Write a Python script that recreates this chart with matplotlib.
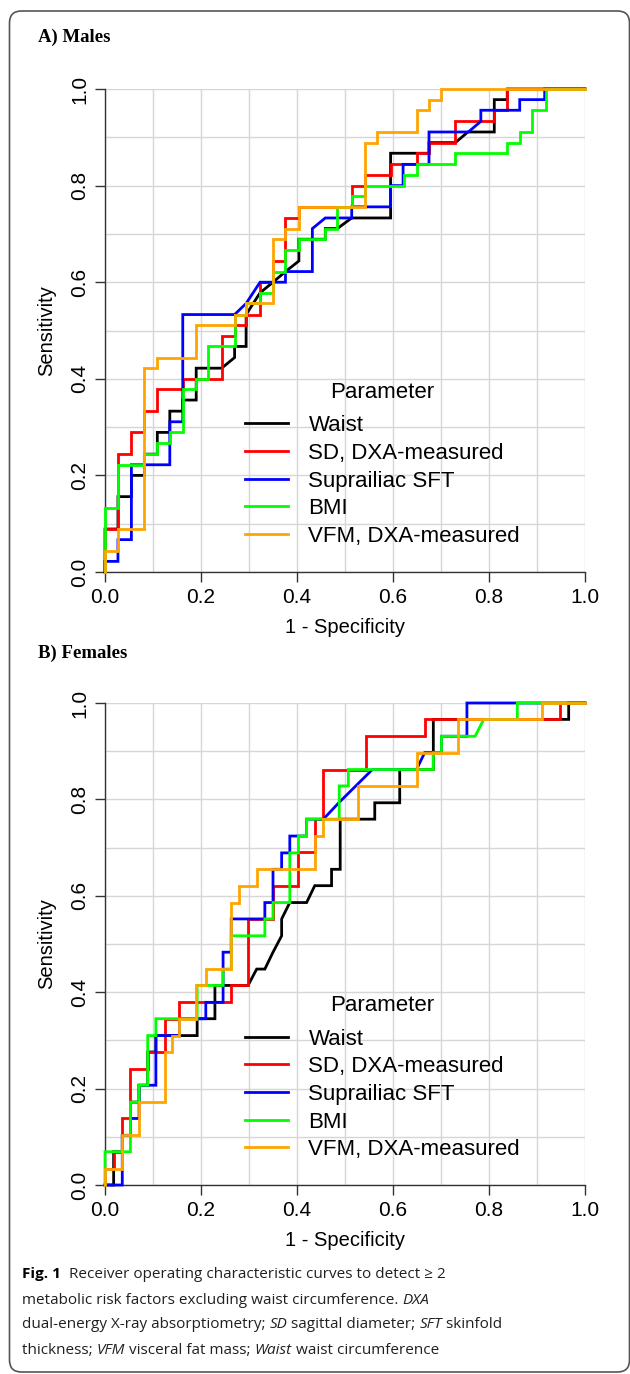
import matplotlib
matplotlib.use("Agg")
import matplotlib.pyplot as plt
from matplotlib.patches import FancyBboxPatch
from matplotlib.transforms import IdentityTransform

plt.rcParams["font.family"] = ["Liberation Sans", "DejaVu Sans"]

params = ["Waist", "SD, DXA-measured", "Suprailiac SFT", "BMI", "VFM, DXA-measured"]
colors = ["#000000", "#FF0000", "#0000FF", "#00FF00", "#FFA500"]
ticks = [0.0, 0.2, 0.4, 0.6, 0.8, 1.0]
tick_labels = ["0.0", "0.2", "0.4", "0.6", "0.8", "1.0"]

# ---- A) Males: 1 - specificity / sensitivity
waist_m_x = [0, 0, 0.027, 0.027, 0.055, 0.055, 0.082, 0.082, 0.109, 0.109, 0.135, 0.135, 0.162, 0.162, 0.19, 0.19, 0.243, 0.27, 0.27, 0.294, 0.294, 0.323, 0.35, 0.376, 0.404, 0.404, 0.459, 0.459, 0.484, 0.514, 0.595, 0.595, 0.675, 0.675, 0.73, 0.756, 0.811, 0.811, 0.838, 0.838, 1]
waist_m_y = [0, 0.089, 0.089, 0.156, 0.156, 0.2, 0.2, 0.244, 0.244, 0.289, 0.289, 0.333, 0.333, 0.356, 0.356, 0.422, 0.422, 0.444, 0.467, 0.467, 0.533, 0.578, 0.6, 0.622, 0.644, 0.689, 0.689, 0.711, 0.711, 0.733, 0.733, 0.867, 0.867, 0.889, 0.889, 0.911, 0.911, 0.978, 0.978, 1.0, 1.0]

sd_m_x = [0, 0, 0.027, 0.027, 0.055, 0.055, 0.082, 0.082, 0.109, 0.109, 0.162, 0.162, 0.243, 0.243, 0.27, 0.27, 0.294, 0.294, 0.323, 0.323, 0.35, 0.35, 0.376, 0.376, 0.404, 0.404, 0.514, 0.514, 0.541, 0.541, 0.595, 0.595, 0.649, 0.649, 0.675, 0.675, 0.729, 0.729, 0.811, 0.811, 0.838, 0.838, 1]
sd_m_y = [0, 0.089, 0.089, 0.244, 0.244, 0.289, 0.289, 0.333, 0.333, 0.378, 0.378, 0.4, 0.4, 0.489, 0.489, 0.511, 0.511, 0.533, 0.533, 0.6, 0.6, 0.644, 0.644, 0.733, 0.733, 0.756, 0.756, 0.8, 0.8, 0.822, 0.822, 0.844, 0.844, 0.867, 0.867, 0.889, 0.889, 0.933, 0.933, 0.956, 0.956, 1.0, 1.0]

supra_m_x = [0, 0, 0.027, 0.027, 0.055, 0.055, 0.135, 0.135, 0.162, 0.162, 0.27, 0.294, 0.323, 0.35, 0.376, 0.376, 0.432, 0.432, 0.459, 0.514, 0.514, 0.595, 0.595, 0.621, 0.621, 0.675, 0.675, 0.757, 0.783, 0.783, 0.864, 0.864, 0.916, 0.916, 1]
supra_m_y = [0, 0.022, 0.022, 0.067, 0.067, 0.222, 0.222, 0.311, 0.311, 0.533, 0.533, 0.556, 0.6, 0.6, 0.6, 0.622, 0.622, 0.711, 0.733, 0.733, 0.756, 0.756, 0.8, 0.8, 0.844, 0.844, 0.911, 0.911, 0.933, 0.956, 0.956, 0.978, 0.978, 1.0, 1.0]

bmi_m_x = [0, 0, 0.027, 0.027, 0.082, 0.082, 0.109, 0.109, 0.135, 0.135, 0.162, 0.162, 0.19, 0.19, 0.215, 0.215, 0.27, 0.27, 0.294, 0.294, 0.323, 0.323, 0.35, 0.35, 0.376, 0.376, 0.404, 0.404, 0.459, 0.459, 0.484, 0.484, 0.514, 0.514, 0.541, 0.541, 0.623, 0.623, 0.649, 0.649, 0.73, 0.73, 0.838, 0.838, 0.864, 0.864, 0.89, 0.89, 0.918, 0.918, 1]
bmi_m_y = [0, 0.133, 0.133, 0.222, 0.222, 0.244, 0.244, 0.267, 0.267, 0.289, 0.289, 0.378, 0.378, 0.4, 0.4, 0.467, 0.467, 0.533, 0.533, 0.556, 0.556, 0.578, 0.578, 0.622, 0.622, 0.667, 0.667, 0.689, 0.689, 0.711, 0.711, 0.756, 0.756, 0.778, 0.778, 0.8, 0.8, 0.822, 0.822, 0.844, 0.844, 0.867, 0.867, 0.889, 0.889, 0.911, 0.911, 0.956, 0.956, 1.0, 1.0]

vfm_m_x = [0, 0, 0.027, 0.027, 0.082, 0.082, 0.109, 0.109, 0.19, 0.19, 0.27, 0.27, 0.294, 0.294, 0.35, 0.35, 0.376, 0.376, 0.404, 0.404, 0.541, 0.541, 0.566, 0.566, 0.649, 0.649, 0.675, 0.675, 0.701, 0.701, 1]
vfm_m_y = [0, 0.044, 0.044, 0.089, 0.089, 0.422, 0.422, 0.444, 0.444, 0.511, 0.511, 0.533, 0.533, 0.556, 0.556, 0.689, 0.689, 0.711, 0.711, 0.756, 0.756, 0.889, 0.889, 0.911, 0.911, 0.956, 0.956, 0.978, 0.978, 1.0, 1.0]

# ---- B) Females
waist_f_x = [0, 0.018, 0.018, 0.036, 0.036, 0.053, 0.053, 0.071, 0.071, 0.089, 0.089, 0.106, 0.106, 0.192, 0.192, 0.229, 0.229, 0.298, 0.316, 0.333, 0.35, 0.368, 0.368, 0.385, 0.42, 0.437, 0.472, 0.472, 0.49, 0.49, 0.562, 0.562, 0.614, 0.614, 0.684, 0.684, 0.966, 0.966, 1]
waist_f_y = [0, 0, 0.069, 0.069, 0.103, 0.103, 0.172, 0.172, 0.207, 0.207, 0.276, 0.276, 0.31, 0.31, 0.345, 0.345, 0.414, 0.414, 0.448, 0.448, 0.483, 0.517, 0.552, 0.586, 0.586, 0.621, 0.621, 0.655, 0.655, 0.759, 0.759, 0.793, 0.793, 0.862, 0.862, 0.966, 0.966, 1.0, 1.0]

sd_f_x = [0, 0, 0.018, 0.018, 0.036, 0.036, 0.053, 0.053, 0.089, 0.089, 0.124, 0.124, 0.155, 0.155, 0.263, 0.263, 0.298, 0.298, 0.35, 0.35, 0.403, 0.403, 0.437, 0.437, 0.455, 0.455, 0.544, 0.544, 0.666, 0.666, 0.948, 0.948, 1]
sd_f_y = [0, 0.034, 0.034, 0.069, 0.069, 0.138, 0.138, 0.241, 0.241, 0.276, 0.276, 0.345, 0.345, 0.379, 0.379, 0.414, 0.414, 0.552, 0.552, 0.621, 0.621, 0.69, 0.69, 0.759, 0.759, 0.862, 0.862, 0.931, 0.931, 0.966, 0.966, 1.0, 1.0]

supra_f_x = [0, 0.036, 0.036, 0.053, 0.053, 0.071, 0.071, 0.106, 0.106, 0.155, 0.155, 0.21, 0.21, 0.246, 0.246, 0.263, 0.263, 0.333, 0.333, 0.35, 0.35, 0.368, 0.368, 0.385, 0.385, 0.42, 0.42, 0.455, 0.487, 0.557, 0.649, 0.666, 0.701, 0.701, 0.754, 0.754, 1]
supra_f_y = [0, 0, 0.103, 0.103, 0.138, 0.138, 0.207, 0.207, 0.31, 0.31, 0.345, 0.345, 0.379, 0.379, 0.483, 0.483, 0.552, 0.552, 0.586, 0.586, 0.655, 0.655, 0.689, 0.689, 0.724, 0.724, 0.759, 0.759, 0.793, 0.862, 0.862, 0.897, 0.897, 0.931, 0.931, 1.0, 1.0]

bmi_f_x = [0, 0, 0.053, 0.053, 0.071, 0.071, 0.089, 0.089, 0.106, 0.106, 0.192, 0.192, 0.246, 0.246, 0.263, 0.263, 0.333, 0.333, 0.35, 0.35, 0.385, 0.385, 0.403, 0.403, 0.42, 0.42, 0.488, 0.488, 0.507, 0.507, 0.684, 0.684, 0.701, 0.701, 0.771, 0.789, 0.859, 0.859, 1]
bmi_f_y = [0, 0.069, 0.069, 0.172, 0.172, 0.207, 0.207, 0.31, 0.31, 0.345, 0.345, 0.414, 0.414, 0.448, 0.448, 0.517, 0.517, 0.552, 0.552, 0.586, 0.586, 0.689, 0.689, 0.724, 0.724, 0.759, 0.759, 0.828, 0.828, 0.862, 0.862, 0.897, 0.897, 0.931, 0.931, 0.966, 0.966, 1.0, 1.0]

vfm_f_x = [0, 0, 0.036, 0.036, 0.071, 0.071, 0.124, 0.124, 0.14, 0.14, 0.155, 0.155, 0.19, 0.19, 0.21, 0.21, 0.263, 0.263, 0.28, 0.28, 0.316, 0.316, 0.437, 0.437, 0.455, 0.455, 0.527, 0.527, 0.649, 0.649, 0.736, 0.736, 0.911, 0.911, 1]
vfm_f_y = [0, 0.034, 0.034, 0.103, 0.103, 0.172, 0.172, 0.276, 0.276, 0.31, 0.31, 0.345, 0.345, 0.414, 0.414, 0.448, 0.448, 0.586, 0.586, 0.621, 0.621, 0.655, 0.655, 0.724, 0.724, 0.759, 0.759, 0.828, 0.828, 0.897, 0.897, 0.966, 0.966, 1.0, 1.0]

males = [(waist_m_x, waist_m_y), (sd_m_x, sd_m_y), (supra_m_x, supra_m_y), (bmi_m_x, bmi_m_y), (vfm_m_x, vfm_m_y)]
females = [(waist_f_x, waist_f_y), (sd_f_x, sd_f_y), (supra_f_x, supra_f_y), (bmi_f_x, bmi_f_y), (vfm_f_x, vfm_f_y)]

W, H = 630, 1374
fig = plt.figure(figsize=(W / 100, H / 100), dpi=100)


def add_ax(left, top, right, bottom):
    return fig.add_axes([left / W, 1 - bottom / H, (right - left) / W, (bottom - top) / H])


def roc_panel(ax, curves):
    for (x, y), c, name in zip(curves, colors, params):
        ax.plot(x, y, color=c, lw=2.0, label=name, zorder=3, clip_on=False,
                solid_joinstyle="miter")
    ax.set_xlim(0, 1)
    ax.set_ylim(0, 1)
    ax.set_xticks(ticks)
    ax.set_xticklabels(tick_labels)
    ax.set_yticks(ticks)
    ax.set_yticklabels(tick_labels, rotation=90, va="center")
    ax.set_xticks([i / 10 for i in range(1, 10, 2)], minor=True)
    ax.set_yticks([i / 10 for i in range(1, 10, 2)], minor=True)
    ax.grid(True, which="both", color="#D6D6D6", lw=1.0, zorder=0)
    ax.set_axisbelow(True)
    ax.tick_params(which="major", length=7, width=1, labelsize=15, pad=4.5, color="#333333")
    ax.tick_params(which="minor", length=0)
    for s in ["top", "right"]:
        ax.spines[s].set_visible(False)
    for s in ["left", "bottom"]:
        ax.spines[s].set_color("#333333")
        ax.spines[s].set_linewidth(1.0)
    ax.set_xlabel("1 - Specificity", fontsize=14.5, va="center")
    ax.xaxis.set_label_coords(0.5, -0.115)
    ax.set_ylabel("Sensitivity", fontsize=14.5, va="center")
    ax.yaxis.set_label_coords(-0.121, 0.5)
    leg = ax.legend(title="Parameter", loc="upper left", bbox_to_anchor=(0.292, 0.394),
                    frameon=False, fontsize=16, title_fontsize=16, handlelength=1.95,
                    handletextpad=0.9, labelspacing=0.3, borderpad=0, borderaxespad=0)
    leg._legend_box.sep = 9
    for h in leg.get_lines():
        h.set_linewidth(2.0)


ax1 = add_ax(105, 89, 585, 572)
roc_panel(ax1, males)
ax2 = add_ax(105, 703, 585, 1185)
roc_panel(ax2, females)

fig.text(38 / W, 1 - 37 / H, "A) Males", fontfamily="Liberation Serif", fontweight="bold",
         fontsize=13.5, va="center")
fig.text(38 / W, 1 - 653 / H, "B) Females", fontfamily="Liberation Serif", fontweight="bold",
         fontsize=13.5, va="center")

# rounded frame around the figure
frame = FancyBboxPatch((9.5, 2), 620, 1361, boxstyle="round,pad=0,rounding_size=12",
                       transform=IdentityTransform(), fill=False, ec="#555555", lw=1.2)
fig.patches.append(frame)

# caption with bold / italic runs
cap_font = ["Open Sans", "DejaVu Sans"]
cap_size = 11
cap_color = "#231F20"
caption = [
    [("Fig. 1", "bold"), ("  Receiver operating characteristic curves to detect \u2265 2", "normal")],
    [("metabolic risk factors excluding waist circumference. ", "normal"), ("DXA", "italic")],
    [("dual-energy X-ray absorptiometry; ", "normal"), ("SD", "italic"),
     (" sagittal diameter; ", "normal"), ("SFT", "italic"), (" skinfold", "normal")],
    [("thickness; ", "normal"), ("VFM", "italic"), (" visceral fat mass; ", "normal"),
     ("Waist", "italic"), (" waist circumference", "normal")],
]
line_y = [1274, 1300, 1325, 1351]

renderer = fig.canvas.get_renderer()


def run_width(s, **kw):
    # width including leading/trailing spaces
    t = fig.text(0, 0, "|" + s + "|", fontsize=cap_size, family=cap_font, **kw)
    t2 = fig.text(0, 0, "||", fontsize=cap_size, family=cap_font, **kw)
    w = t.get_window_extent(renderer).width - t2.get_window_extent(renderer).width
    t.remove()
    t2.remove()
    return w


for runs, yy in zip(caption, line_y):
    x = 22
    for s, style in runs:
        kw = {}
        if style == "bold":
            kw["fontweight"] = "bold"
        if style == "italic":
            kw["fontstyle"] = "italic"
        fig.text(x / W, 1 - yy / H, s, fontsize=cap_size, family=cap_font, va="center",
                 color="#000000" if style == "bold" else cap_color, **kw)
        x += run_width(s, **kw)

fig.savefig("out.png", dpi=100)
